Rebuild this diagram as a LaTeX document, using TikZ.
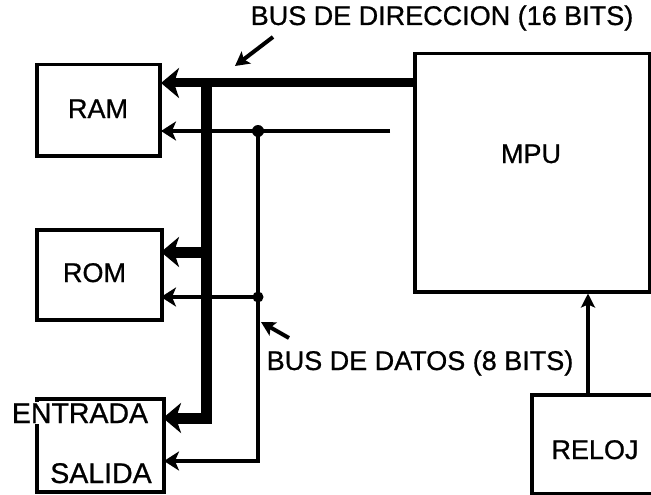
\documentclass[tikz,border=0pt]{standalone}
\usepackage{fontspec}
\setmainfont{Liberation Sans}
\newfontfamily\lblfont{Liberation Sans}[FakeBold=0.8]
\usetikzlibrary{arrows.meta,calc}
\begin{document}
\begin{tikzpicture}[x=1pt,y=-1pt,
  box/.style={draw, line width=3.5pt, inner sep=0pt},
  lbl/.style={font=\lblfont\fontsize{27}{30}\selectfont, inner sep=1pt, anchor=base},
  biglbl/.style={lbl, font=\lblfont\fontsize{28.5}{31}\selectfont},
  abus/.style={line width=9pt},
  vbus/.style={line width=11pt},
  dbus/.style={line width=4.5pt},
  atip/.style={-{Stealth[length=18pt,width=30pt,inset=5pt]}},
  dtip/.style={-{Stealth[length=15pt,width=19pt,inset=4pt]}},
  ptip/.style={-{Stealth[length=14pt,width=15pt,inset=3pt]}}
]
\useasboundingbox (0,0) rectangle (651,495);
\clip (0,0) rectangle (651,495);
% boxes
\node[box, anchor=north west, minimum width=123pt, minimum height=91pt] (ram) at (35,63) {};
\node[box, anchor=north west, minimum width=125pt, minimum height=90pt] (rom) at (35,228) {};
\node[box, anchor=north west, minimum width=127pt, minimum height=93pt] (es) at (35,397) {};
\node[box, anchor=north west, minimum width=235pt, minimum height=238pt] (mpu) at (413,52) {};
\node[box, anchor=north west, minimum width=140pt, minimum height=99pt] (reloj) at (530,393) {};
% texts
\node[lbl] (ramt) at (98,118) {RAM};
\node[lbl] (romt) at (94.5,282) {ROM};
\node[biglbl, fill=white] (ent) at (80,423) {ENTRADA};
\node[biglbl] (sal) at (101,483) {SALIDA};
\node[lbl] (mput) at (531,163) {MPU};
\node[lbl] (relt) at (595,459) {RELOJ};
\node[lbl] (abl) at (442,25) {BUS DE DIRECCION (16 BITS)};
\node[lbl] (dbl) at (420,370) {BUS DE DATOS (8 BITS)};
% helper coordinates
\coordinate (ya) at (0,83);
\coordinate (xc) at (588,0);
\coordinate (dend) at (390,131);
\coordinate (rama) at (161,83);
\coordinate (ramd) at (161,131);
\coordinate (roma) at (161,252);
\coordinate (romd) at (161,297);
\coordinate (esa) at (163,418);
\coordinate (esd) at (164,461);
\coordinate (va) at (206,83);
\coordinate (vb) at (206,252);
\coordinate (vd) at (258,131);
\coordinate (vr) at (258,297);
% address bus
\draw[abus, atip] (mpu.west |- ya) -- (rama);
\draw[vbus, atip] (va) |- (esa);
\draw[vbus, atip] (vb) -- (roma);
% data bus
\draw[dbus, dtip] (dend) -- (ramd);
\draw[dbus, dtip] (vd) |- (esd);
\draw[dbus, dtip] (vr) -- (romd);
\fill (vd) circle[radius=6pt];
\fill (vr) circle[radius=5.5pt];
% clock
\draw[dbus, -{Stealth[length=14pt,width=14pt,inset=3pt]}] (reloj.north -| xc) -- (mpu.south -| xc);
% pointers
\coordinate (pa1) at (273,37);
\coordinate (pa2) at (235,66);
\coordinate (pd1) at (289,338);
\coordinate (pd2) at (261,322);
\draw[line width=4pt, ptip] (pa1) -- (pa2);
\draw[line width=4pt, ptip] (pd1) -- (pd2);
\end{tikzpicture}
\end{document}
